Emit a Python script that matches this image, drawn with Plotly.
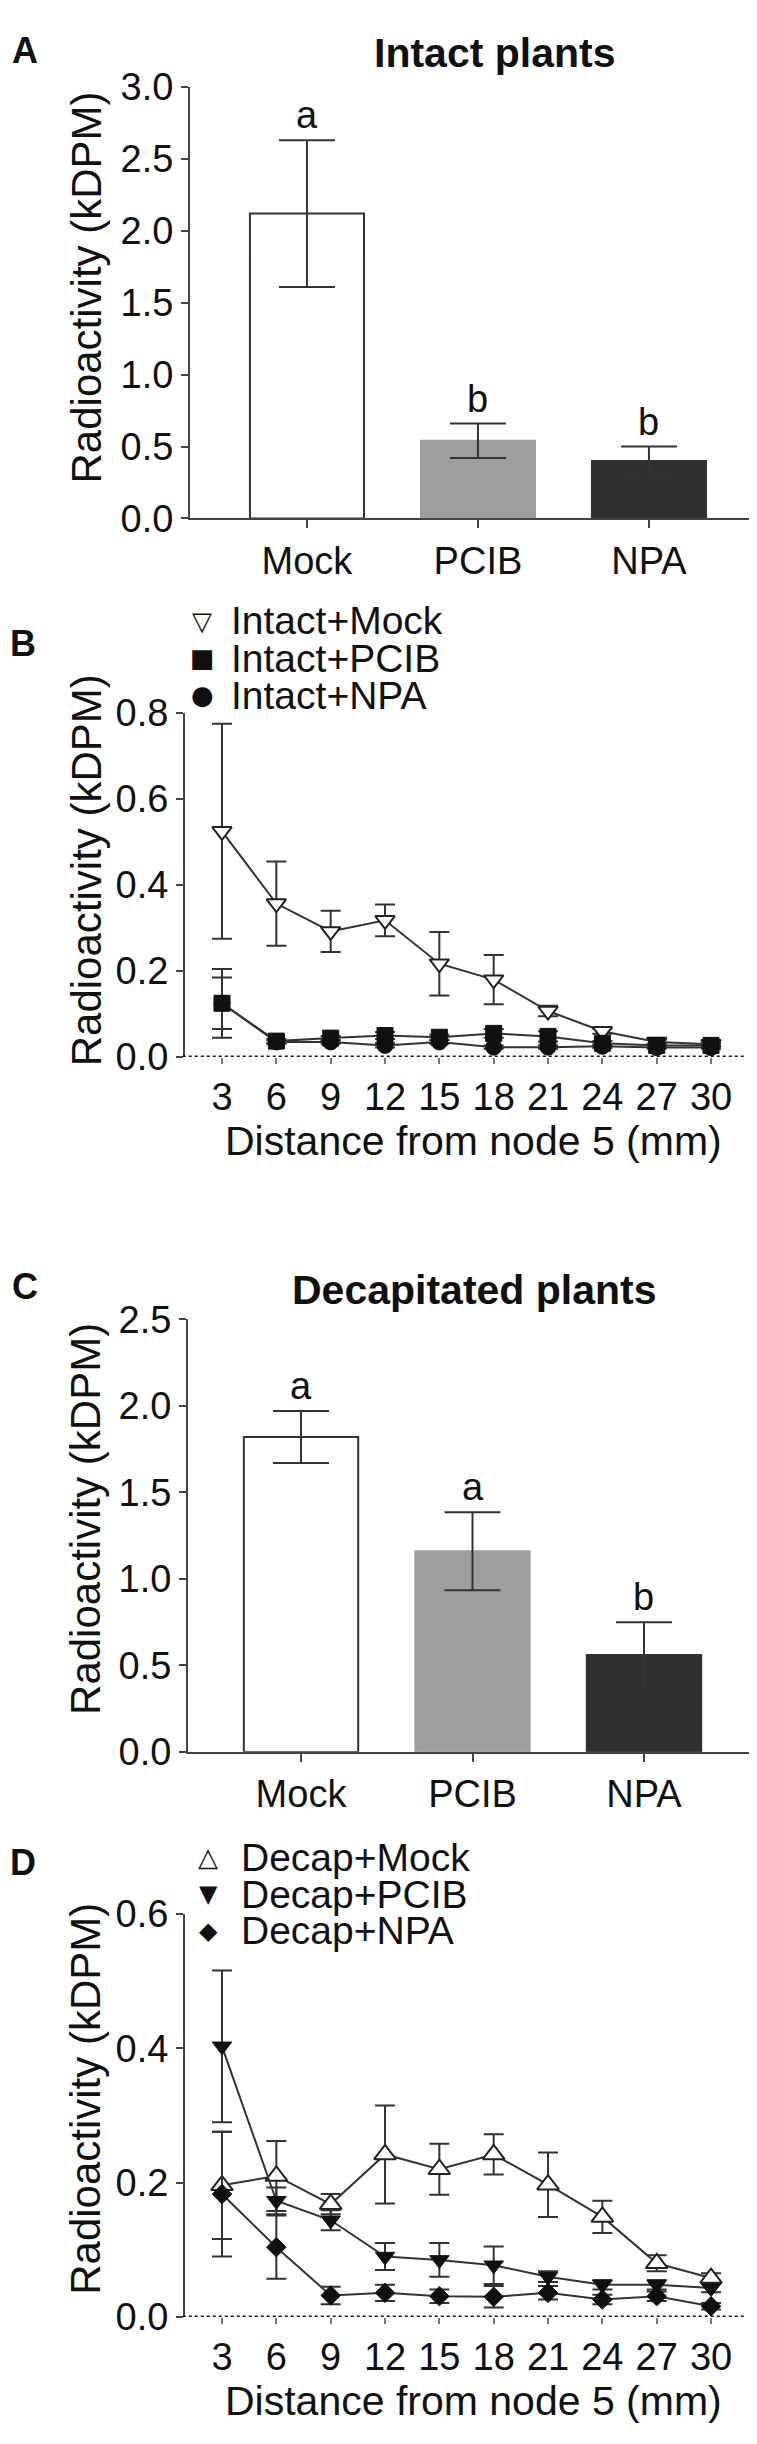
import plotly.graph_objects as go

# ---------------- data ----------------
categories = ["Mock", "PCIB", "NPA"]
intact_mean = [2.12, 0.54, 0.40]
intact_sem = [0.51, 0.12, 0.10]
intact_letters = ["a", "b", "b"]

decap_mean = [1.82, 1.16, 0.56]
decap_sem = [0.15, 0.225, 0.19]
decap_letters = ["a", "a", "b"]

bar_colors = ["#ffffff", "#9e9e9e", "#303030"]
bar_edges = ["#333333", "#9e9e9e", "#303030"]

distance = [3, 6, 9, 12, 15, 18, 21, 24, 27, 30]

intact_mock = [0.525, 0.357, 0.292, 0.318, 0.217, 0.180, 0.107, 0.060, 0.035, 0.030]
intact_mock_sem = [0.25, 0.098, 0.048, 0.037, 0.074, 0.057, 0.012, 0.006, 0.005, 0.004]
intact_pcib = [0.125, 0.037, 0.044, 0.050, 0.046, 0.055, 0.048, 0.032, 0.027, 0.027]
intact_pcib_sem = [0.08, 0.005, 0.005, 0.008, 0.006, 0.010, 0.012, 0.005, 0.004, 0.004]
intact_npa = [0.125, 0.035, 0.035, 0.027, 0.035, 0.023, 0.023, 0.025, 0.022, 0.022]
intact_npa_sem = [0.06, 0.004, 0.004, 0.005, 0.004, 0.004, 0.004, 0.004, 0.003, 0.003]

decap_mock = [0.196, 0.210, 0.168, 0.242, 0.220, 0.242, 0.197, 0.149, 0.080, 0.058]
decap_mock_sem = [0.08, 0.052, 0.015, 0.073, 0.038, 0.030, 0.048, 0.024, 0.012, 0.007]
decap_pcib = [0.403, 0.173, 0.144, 0.090, 0.085, 0.077, 0.060, 0.048, 0.048, 0.043]
decap_pcib_sem = [0.113, 0.020, 0.015, 0.020, 0.025, 0.028, 0.008, 0.007, 0.007, 0.006]
decap_npa = [0.183, 0.104, 0.032, 0.036, 0.031, 0.030, 0.036, 0.026, 0.031, 0.016]
decap_npa_sem = [0.093, 0.047, 0.013, 0.012, 0.010, 0.016, 0.010, 0.007, 0.007, 0.005]

# ---------------- layout helpers ----------------
W, H = 757, 2444
FONT = "Liberation Sans, Arial, Helvetica, sans-serif"
INK = "#111111"
AX = "#444444"


def px(x):
    return x / W


def py(y):
    return 1 - y / H


fig = go.Figure()

# ---------- Panel A: intact bars ----------
fig.add_trace(go.Bar(
    x=categories, y=intact_mean, width=0.667,
    marker=dict(color=bar_colors, line=dict(color=bar_edges, width=2)),
    error_y=dict(type="data", array=intact_sem, visible=True, color="#333333", thickness=2, width=28),
    xaxis="x", yaxis="y", showlegend=False,
))

# ---------- Panel B: intact lines ----------
line_style = dict(color="#333333", width=2)
fig.add_trace(go.Scatter(
    x=distance, y=intact_mock, mode="lines+markers", line=line_style,
    marker=dict(symbol="triangle-down", size=17, color="white", line=dict(color="#222222", width=2)),
    error_y=dict(type="data", array=intact_mock_sem, color="#333333", thickness=2, width=10),
    xaxis="x2", yaxis="y2", showlegend=False, cliponaxis=False,
))
fig.add_trace(go.Scatter(
    x=distance, y=intact_npa, mode="lines+markers", line=line_style,
    marker=dict(symbol="circle", size=16, color="#111111", line=dict(color="#111111", width=1)),
    error_y=dict(type="data", array=intact_npa_sem, color="#333333", thickness=2, width=10),
    xaxis="x2", yaxis="y2", showlegend=False, cliponaxis=False,
))
fig.add_trace(go.Scatter(
    x=distance, y=intact_pcib, mode="lines+markers", line=line_style,
    marker=dict(symbol="square", size=16, color="#111111", line=dict(color="#111111", width=1)),
    error_y=dict(type="data", array=intact_pcib_sem, color="#333333", thickness=2, width=10),
    xaxis="x2", yaxis="y2", showlegend=False, cliponaxis=False,
))

# ---------- Panel C: decapitated bars ----------
fig.add_trace(go.Bar(
    x=categories, y=decap_mean, width=0.667,
    marker=dict(color=bar_colors, line=dict(color=bar_edges, width=2)),
    error_y=dict(type="data", array=decap_sem, visible=True, color="#333333", thickness=2, width=28),
    xaxis="x3", yaxis="y3", showlegend=False,
))

# ---------- Panel D: decapitated lines ----------
fig.add_trace(go.Scatter(
    x=distance, y=decap_mock, mode="lines+markers", line=line_style,
    marker=dict(symbol="triangle-up", size=19, color="white", line=dict(color="#222222", width=2)),
    error_y=dict(type="data", array=decap_mock_sem, color="#333333", thickness=2, width=10),
    xaxis="x4", yaxis="y4", showlegend=False, cliponaxis=False,
))
fig.add_trace(go.Scatter(
    x=distance, y=decap_pcib, mode="lines+markers", line=line_style,
    marker=dict(symbol="triangle-down", size=17, color="#111111", line=dict(color="#111111", width=1)),
    error_y=dict(type="data", array=decap_pcib_sem, color="#333333", thickness=2, width=10),
    xaxis="x4", yaxis="y4", showlegend=False, cliponaxis=False,
))
fig.add_trace(go.Scatter(
    x=distance, y=decap_npa, mode="lines+markers", line=line_style,
    marker=dict(symbol="diamond", size=15, color="#111111", line=dict(color="#111111", width=1)),
    error_y=dict(type="data", array=decap_npa_sem, color="#333333", thickness=2, width=10),
    xaxis="x4", yaxis="y4", showlegend=False, cliponaxis=False,
))

tickfont = dict(family=FONT, size=38, color=INK)

ycommon = dict(showline=True, linecolor=AX, linewidth=2, ticks="outside", ticklen=7,
               tickwidth=2, tickcolor=AX, tickfont=tickfont, showgrid=False, zeroline=False,
               tickformat=".1f")
xbar = dict(showline=True, linecolor=AX, linewidth=2, ticks="outside", ticklen=8,
            tickwidth=2, tickcolor=AX, tickfont=tickfont, showgrid=False, zeroline=False)
xline = dict(showline=False, ticks="outside", ticklen=6, tickwidth=2, tickcolor="#777777",
             tickfont=tickfont, showgrid=False, zeroline=False, tickvals=distance,
             range=[0.957, 31.93])

fig.update_layout(
    width=W, height=H, margin=dict(l=0, r=0, t=0, b=0),
    paper_bgcolor="white", plot_bgcolor="white",
    font=dict(family=FONT, color=INK),
    xaxis=dict(domain=[px(182), px(755)], range=[-0.684, 2.667], anchor="y", **xbar),
    yaxis=dict(domain=[py(498), py(59)], range=[0, 3], dtick=0.5, anchor="x", **ycommon),
    xaxis2=dict(domain=[px(177), px(738)], anchor="y2", **xline),
    yaxis2=dict(domain=[py(1046), py(696)], range=[0, 0.8], dtick=0.2, anchor="x2", **ycommon),
    xaxis3=dict(domain=[px(180), px(749)], range=[-0.659, 2.659], anchor="y3", **xbar),
    yaxis3=dict(domain=[py(1753), py(1313)], range=[0, 2.5], dtick=0.5, anchor="x3", **ycommon),
    xaxis4=dict(domain=[px(177), px(738)], anchor="y4", **xline),
    yaxis4=dict(domain=[py(2328), py(1918)], range=[0, 0.6], dtick=0.2, anchor="x4", **ycommon),
)

# dotted zero lines for the line panels
for xr, yr in (("x2", "y2"), ("x4", "y4")):
    fig.add_shape(type="line", xref=f"{xr} domain", yref=yr, x0=-0.004, x1=1.0, y0=0, y1=0,
                  line=dict(color="#111111", width=3, dash="dot"), layer="above")

ann = []


def text(x, y, s, size=38, bold=False, **kw):
    ann.append(dict(x=px(x), y=py(y), xref="paper", yref="paper", text=(f"<b>{s}</b>" if bold else s),
                    showarrow=False, font=dict(family=kw.pop("family", FONT), size=size, color=INK),
                    xanchor=kw.pop("xanchor", "center"), yanchor=kw.pop("yanchor", "middle"), **kw))


# panel letters
text(17, 22, "A", 36, True)
text(15, 625, "B", 36, True)
text(17, 1279, "C", 36, True)
text(15, 1866, "D", 36, True)

# titles
text(487, 24, "Intact plants", 41, True)
text(466, 1283, "Decapitated plants", 41, True)

# y-axis titles
for yc in (263, 856, 1516, 2106):
    text(78, yc, "Radioactivity (kDPM)", 42, textangle=-90)

# x-axis titles
text(465, 1131, "Distance from node 5 (mm)", 41)
text(465, 2413, "Distance from node 5 (mm)", 41)

# legends (drawn as text rows to keep the tight row spacing of the original)
for yy, glyph, gsize, lab in ((602, "▽", 26, "Intact+Mock"), (640, "■", 26, "Intact+PCIB"),
                              (678, "●", 26, "Intact+NPA")):
    text(194, yy, glyph, gsize, family="DejaVu Sans")
    text(221, yy, lab, 39, xanchor="left")
for yy, glyph, gsize, lab in ((1860, "△", 26, "Decap+Mock"), (1898, "▼", 24, "Decap+PCIB"),
                              (1935, "◆", 24, "Decap+NPA")):
    text(200, yy, glyph, gsize, family="DejaVu Sans")
    text(231, yy, lab, 39, xanchor="left")

# significance letters
for c, m, s, l in zip(categories, intact_mean, intact_sem, intact_letters):
    ann.append(dict(x=c, y=m + s, xref="x", yref="y", text=l, showarrow=False, yanchor="bottom",
                    yshift=2, font=dict(family=FONT, size=38, color=INK)))
for c, m, s, l in zip(categories, decap_mean, decap_sem, decap_letters):
    ann.append(dict(x=c, y=m + s, xref="x3", yref="y3", text=l, showarrow=False, yanchor="bottom",
                    yshift=2, font=dict(family=FONT, size=38, color=INK)))

fig.update_layout(annotations=ann)

fig.write_html("out.html")
